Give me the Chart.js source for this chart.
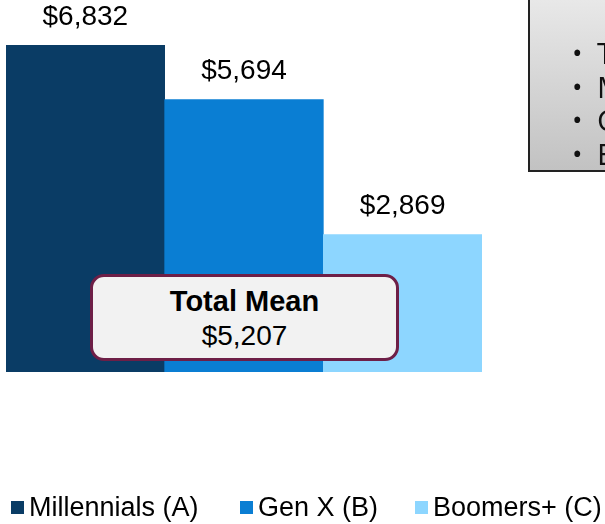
<!DOCTYPE html>
<html>
<head>
<meta charset="utf-8">
<script src="https://cdn.jsdelivr.net/npm/chart.js@4"></script>
<style>
  html, body { margin: 0; padding: 0; background: #fff; overflow: hidden; }
  .wrap { position: relative; width: 605px; height: 524px; overflow: hidden; font-family: 'Liberation Sans', Arial, sans-serif; }
  canvas { position: absolute; left: 0; top: 0; }
  .note { position: absolute; left: 528px; top: -20px; width: 120px; height: 188px;
    border-left: 2px solid #222; border-bottom: 2px solid #222; border-top: 2px solid #222;
    background: linear-gradient(#ececec, #c2c2c2); }
  .note ul { margin: 0; padding: 0; list-style: none; position: absolute; left: 67px; top: 54px;
    font-family: 'Open Sans', 'Noto Sans', sans-serif; font-size: 30px; line-height: 33.5px; color: #111; }
  .note li { position: relative; }
  .note li::before { content: '\2022'; position: absolute; left: -25px; top: 0; font-size: 28px; }
  .mean { position: absolute; left: 90px; top: 274px; width: 303px; height: 81px;
    border: 3px solid #6e1f47; border-radius: 14px; background: #f2f2f2; text-align: center; color: #000; }
  .mean b { display: block; font-size: 29px; line-height: 30px; margin-top: 9px; }
  .mean span { display: block; font-size: 28px; line-height: 30px; margin-top: 5px; }
  .legend { position: absolute; left: 0; top: 492px; width: 605px; height: 32px; }
  .legend .item { position: absolute; top: 0; display: flex; align-items: center; font-size: 27px; line-height: 30px; color: #000; }
  .legend .sw { width: 13px; height: 13px; margin-right: 5px; }
</style>
</head>
<body>
<div class="wrap">
  <canvas id="c" width="605" height="524"></canvas>
  <div class="note"><ul id="noteList"></ul></div>
  <div class="mean"><b id="meanTitle"></b><span id="meanValue"></span></div>
  <div class="legend" id="legend"></div>
</div>
<script>
const categories = ['Millennials (A)', 'Gen X (B)', 'Boomers+ (C)'];
const values = [6832, 5694, 2869];
const colors = ['#0a3c65', '#0a7ed3', '#8dd6ff'];
const totalMeanLabel = 'Total Mean';
const totalMean = 5207;
const noteLines = ['T', 'M', 'C', 'E'];
const legendX = [11, 240, 415];

const fmt = v => '$' + v.toLocaleString('en-US');

document.getElementById('meanTitle').textContent = totalMeanLabel;
document.getElementById('meanValue').textContent = fmt(totalMean);
const ul = document.getElementById('noteList');
noteLines.forEach(t => {
  const li = document.createElement('li');
  li.textContent = t;
  ul.appendChild(li);
});
const legend = document.getElementById('legend');
categories.forEach((name, i) => {
  const it = document.createElement('div');
  it.className = 'item';
  it.style.left = legendX[i] + 'px';
  it.innerHTML = '<span class="sw" style="background:' + colors[i] + '"></span>' + name;
  legend.appendChild(it);
});

const valueLabels = {
  id: 'valueLabels',
  afterDatasetsDraw(chart) {
    const ctx = chart.ctx;
    const meta = chart.getDatasetMeta(0);
    ctx.save();
    ctx.font = "28px 'Liberation Sans', Arial, sans-serif";
    ctx.fillStyle = '#000';
    ctx.textAlign = 'center';
    ctx.textBaseline = 'middle';
    meta.data.forEach((bar, i) => {
      ctx.fillText(fmt(values[i]), bar.x, bar.y - 28);
    });
    ctx.restore();
  }
};

new Chart(document.getElementById('c'), {
  type: 'bar',
  data: {
    labels: categories,
    datasets: [{
      data: values,
      backgroundColor: colors,
      borderWidth: 0,
      barPercentage: 1,
      categoryPercentage: 1
    }]
  },
  options: {
    responsive: false,
    animation: false,
    layout: { padding: { left: 6, right: 123, top: 45, bottom: 152 } },
    plugins: { legend: { display: false }, tooltip: { enabled: false } },
    scales: {
      x: { display: false },
      y: { display: false, min: 0, max: Math.max(...values) }
    }
  },
  plugins: [valueLabels]
});
</script>
</body>
</html>
